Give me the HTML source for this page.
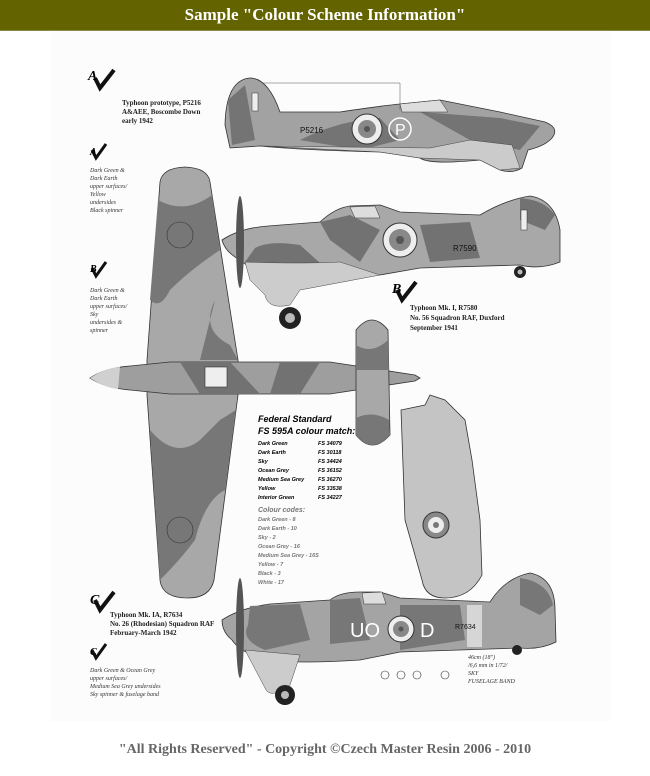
<!DOCTYPE html>
<html><head><meta charset="utf-8"><style>
body{margin:0;width:650px;height:776px;background:#fff;overflow:hidden;font-family:"Liberation Serif",serif}
.hdr{position:absolute;left:0;top:0;width:650px;height:30px;background:#636300;color:#fff;font-weight:bold;font-size:17px;text-align:center;line-height:30px;border-bottom:1px solid #8a8a40}
.ftr{position:absolute;left:0;top:742px;width:650px;text-align:center;color:#666;font-weight:bold;font-size:14px}
svg{position:absolute;left:0;top:31px}
.t{font-family:"Liberation Serif",serif;font-size:7px;fill:#222;font-weight:bold}
.i{font-family:"Liberation Serif",serif;font-size:6px;fill:#333;font-style:italic}
.c{fill:none;stroke:#333;stroke-width:.6}
.l{stroke:#444;stroke-width:.6;stroke-dasharray:2,1}
</style></head><body>
<div class="hdr">Sample "Colour Scheme Information"</div>
<svg width="650" height="710" viewBox="0 31 650 710">
<rect x="50" y="31" width="560" height="690" fill="#fcfcfc"/>
<!-- Top side view A -->
<path d="M225,125 Q226,80 250,78 Q268,78 280,112 L340,112 Q380,106 400,104 L440,100 Q470,106 500,112 L545,122 Q560,128 552,138 Q545,146 528,150 L522,168 Q512,174 500,170 L480,160 Q430,165 420,158 L380,152 Q300,150 260,146 L230,148 Z" fill="#a2a2a2" stroke="#333" stroke-width="0.8"/>
<path d="M300,140 Q340,120 380,118 L400,140 L360,150 Z M420,112 L500,118 L540,126 L520,150 L470,140 Z M228,100 L245,85 L255,140 L232,145 Z" fill="#747474"/>
<path d="M400,104 L440,100 L448,112 L402,112 Z" fill="#ddd" stroke="#333" stroke-width=".5"/>
<path d="M260,146 L380,152 L420,158 L480,160 L500,170 L520,168 L512,145 L470,140 L430,148 Z" fill="#cbcbcb" stroke="#444" stroke-width="0.5"/>
<circle cx="367" cy="129" r="15" fill="#eee" stroke="#333"/><circle cx="367" cy="129" r="9" fill="#888"/><circle cx="367" cy="129" r="3" fill="#555"/>
<circle cx="400" cy="129" r="11" fill="none" stroke="#fff" stroke-width="1.5"/><text x="395" y="135" font-size="16" fill="#fff" font-family="Liberation Sans">P</text>
<text x="300" y="133" font-size="8" fill="#111" font-family="Liberation Sans">P5216</text>
<rect x="252" y="93" width="6" height="18" fill="#eee" stroke="#333" stroke-width=".5"/>
<line x1="262" y1="83" x2="400" y2="83" stroke="#555" stroke-width=".5"/><line x1="400" y1="83" x2="400" y2="110" stroke="#555" stroke-width=".5"/>
<path d="M95,78 l5,10 l14,-18" stroke="#111" stroke-width="4" fill="none"/><text x="88" y="80" font-size="14" font-weight="bold" font-style="italic">A</text>
<text class="t" x="122" y="105">Typhoon prototype, P5216</text><text class="t" x="122" y="114">A&amp;AEE, Boscombe Down</text><text class="t" x="122" y="123">early 1942</text>
<!-- notes -->
<path d="M92,150 l4,8 l10,-14" stroke="#111" stroke-width="3" fill="none"/><text x="90" y="155" font-size="10" font-weight="bold" font-style="italic">A</text>
<text class="i" x="90" y="172">Dark Green &amp;</text><text class="i" x="90" y="180">Dark Earth</text><text class="i" x="90" y="188">upper surfaces/</text><text class="i" x="90" y="196">Yellow</text><text class="i" x="90" y="204">undersides</text><text class="i" x="90" y="212">Black spinner</text>
<path d="M92,268 l4,8 l10,-14" stroke="#111" stroke-width="3" fill="none"/><text x="90" y="272" font-size="10" font-weight="bold" font-style="italic">B</text>
<text class="i" x="90" y="292">Dark Green &amp;</text><text class="i" x="90" y="300">Dark Earth</text><text class="i" x="90" y="308">upper surfaces/</text><text class="i" x="90" y="316">Sky</text><text class="i" x="90" y="324">undersides &amp;</text><text class="i" x="90" y="332">spinner</text>
<!-- top view wing -->
<path d="M160,182 Q162,168 185,167 Q208,168 210,182 L238,360 L238,395 L214,580 Q210,598 188,598 Q162,598 160,580 L147,395 L147,360 Z" fill="#a8a8a8" stroke="#333" stroke-width="0.8"/>
<path d="M158,200 Q185,215 212,195 L220,250 Q190,270 170,290 Q160,310 150,300 Z M215,300 Q200,330 230,345 L238,360 L200,360 Z M150,430 Q175,460 200,440 L220,420 L236,410 L225,490 Q205,500 195,540 Q180,560 160,580 Z" fill="#777"/>
<circle cx="180" cy="235" r="13" class="c"/><circle cx="180" cy="530" r="13" class="c"/>
<!-- fuselage top view -->
<path d="M90,378 Q105,368 130,366 L170,362 L330,362 Q370,368 415,375 L420,378 L415,381 Q370,388 330,394 L170,394 L130,390 Q105,388 90,378 Z" fill="#9e9e9e" stroke="#333" stroke-width="0.8"/>
<path d="M90,378 Q105,368 120,367 L118,389 Q105,388 90,378 Z" fill="#d0d0d0"/>
<path d="M180,362 L230,362 L260,394 L200,394 Z M280,362 L320,362 L300,394 L270,394 Z" fill="#727272"/>
<rect x="205" y="367" width="22" height="20" fill="#eee" stroke="#333" stroke-width=".6"/>
<path d="M356,330 Q372,310 388,330 L390,435 Q372,455 356,435 Z" fill="#a8a8a8" stroke="#333" stroke-width="0.8"/>
<path d="M356,345 Q372,355 388,340 L389,370 L356,370 Z M356,418 Q372,410 389,420 L390,435 Q372,455 356,435 Z" fill="#777"/>
<!-- second side view B -->
<path d="M222,240 Q240,228 268,226 L320,222 Q335,208 350,206 L380,205 L400,212 L480,215 Q505,200 530,196 Q555,200 560,230 L560,262 Q540,270 520,265 L420,268 L380,275 Q320,278 280,275 Q250,270 240,260 Q225,252 222,240 Z" fill="#a8a8a8" stroke="#333" stroke-width="0.8"/>
<path d="M255,248 Q270,240 300,245 L330,272 L280,276 Q255,270 245,262 Z M320,222 L350,215 L380,230 L360,262 L330,240 Z M520,198 Q545,200 555,215 L545,230 L520,220 Z M420,225 L470,222 L480,258 L430,262 Z" fill="#727272"/>
<path d="M350,207 L375,206 L380,218 L355,218 Z" fill="#ddd" stroke="#333" stroke-width=".5"/>
<path d="M245,262 Q300,264 340,262 L380,275 L300,290 L290,305 Q268,310 265,295 L250,280 Z" fill="#ccc" stroke="#444" stroke-width=".5"/>
<circle cx="290" cy="318" r="11" fill="#222"/><circle cx="290" cy="318" r="5" fill="#bbb"/>
<circle cx="400" cy="240" r="17" fill="#eee" stroke="#333"/><circle cx="400" cy="240" r="11" fill="#888"/><circle cx="400" cy="240" r="4" fill="#555"/>
<text x="453" y="251" font-size="8" fill="#111" font-family="Liberation Sans">R7590</text>
<rect x="521" y="210" width="6" height="20" fill="#eee" stroke="#333" stroke-width=".5"/>
<ellipse cx="240" cy="242" rx="4" ry="46" fill="#555"/>
<circle cx="520" cy="272" r="6" fill="#222"/><circle cx="520" cy="272" r="2.5" fill="#bbb"/>
<path d="M397,290 l5,10 l14,-18" stroke="#111" stroke-width="4" fill="none"/><text x="392" y="293" font-size="14" font-weight="bold" font-style="italic">B</text>
<text class="t" x="410" y="310">Typhoon Mk. I, R7580</text><text class="t" x="410" y="320">No. 56 Squadron RAF, Duxford</text><text class="t" x="410" y="330">September 1941</text>
<!-- Federal standard -->
<text x="258" y="422" font-size="9" font-weight="bold" font-family="Liberation Sans" font-style="italic">Federal Standard</text>
<text x="258" y="434" font-size="9" font-weight="bold" font-family="Liberation Sans" font-style="italic">FS 595A colour match:</text>
<g font-size="5.5" font-family="Liberation Sans" font-weight="bold" font-style="italic">
<text x="258" y="445">Dark Green</text><text x="318" y="445">FS 34079</text>
<text x="258" y="454">Dark Earth</text><text x="318" y="454">FS 30118</text>
<text x="258" y="463">Sky</text><text x="318" y="463">FS 34424</text>
<text x="258" y="472">Ocean Grey</text><text x="318" y="472">FS 36152</text>
<text x="258" y="481">Medium Sea Grey</text><text x="318" y="481">FS 36270</text>
<text x="258" y="490">Yellow</text><text x="318" y="490">FS 33538</text>
<text x="258" y="499">Interior Green</text><text x="318" y="499">FS 34227</text>
<text x="258" y="512" font-size="7" fill="#777">Colour codes:</text>
<g fill="#777"><text x="258" y="521">Dark Green - 8</text><text x="258" y="530">Dark Earth - 10</text><text x="258" y="539">Sky - 2</text><text x="258" y="548">Ocean Grey - 16</text><text x="258" y="557">Medium Sea Grey - 16S</text><text x="258" y="566">Yellow - 7</text><text x="258" y="575">Black - 3</text><text x="258" y="584">White - 17</text></g>
</g>
<!-- wing underside -->
<path d="M401,410 L425,405 L430,395 L445,400 L465,420 L472,460 L480,520 L482,575 Q470,598 445,598 Q425,598 422,580 L405,520 Z" fill="#c4c4c4" stroke="#333" stroke-width="0.8"/>
<circle cx="436" cy="525" r="13" fill="#888" stroke="#333"/><circle cx="436" cy="525" r="8" fill="#eee"/><circle cx="436" cy="525" r="3" fill="#777"/>
<!-- bottom side view C -->
<path d="M222,620 Q240,608 270,604 L330,600 Q340,592 360,592 L380,592 L400,598 L490,602 Q505,578 530,573 Q555,578 555,610 L556,642 Q540,650 520,648 L400,652 L360,660 Q300,664 265,660 Q240,652 232,640 Q222,632 222,620 Z" fill="#a4a4a4" stroke="#333" stroke-width="0.8"/>
<path d="M250,606 L300,604 L310,640 L265,650 Q240,640 248,625 Z M330,600 L360,598 L370,640 L330,644 Z M400,605 L460,605 L465,640 L400,650 Z M520,578 Q548,582 553,605 L540,615 L520,605 Z" fill="#777"/>
<path d="M362,593 L382,592 L386,604 L364,604 Z" fill="#ddd" stroke="#333" stroke-width=".5"/>
<rect x="467" y="605" width="15" height="42" fill="#d6d6d6"/>
<path d="M245,650 L300,655 L290,685 Q270,700 265,688 Z" fill="#ccc" stroke="#444" stroke-width=".5"/>
<circle cx="285" cy="695" r="10" fill="#222"/><circle cx="285" cy="695" r="4" fill="#bbb"/>
<circle cx="517" cy="650" r="5" fill="#222"/>
<text x="350" y="637" font-size="20" fill="#fff" font-family="Liberation Sans">UO</text><text x="420" y="637" font-size="20" fill="#fff" font-family="Liberation Sans">D</text>
<circle cx="401" cy="629" r="13" fill="#eee" stroke="#333"/><circle cx="401" cy="629" r="8" fill="#888"/><circle cx="401" cy="629" r="2.5" fill="#555"/>
<text x="455" y="629" font-size="7" fill="#111" font-family="Liberation Sans">R7634</text>
<ellipse cx="240" cy="628" rx="4" ry="50" fill="#555"/>
<circle cx="385" cy="675" r="4" class="c"/><circle cx="401" cy="675" r="4" class="c"/><circle cx="417" cy="675" r="4" class="c"/><circle cx="445" cy="675" r="4" class="c"/>
<path d="M95,600 l5,10 l14,-18" stroke="#111" stroke-width="4" fill="none"/><text x="90" y="604" font-size="14" font-weight="bold" font-style="italic">C</text>
<text class="t" x="110" y="617">Typhoon Mk. IA, R7634</text><text class="t" x="110" y="626">No. 26 (Rhodesian) Squadron RAF</text><text class="t" x="110" y="635">February-March 1942</text>
<path d="M92,650 l4,8 l10,-14" stroke="#111" stroke-width="3" fill="none"/><text x="90" y="655" font-size="10" font-weight="bold" font-style="italic">C</text>
<text class="i" x="90" y="672">Dark Green &amp; Ocean Grey</text><text class="i" x="90" y="680">upper surfaces/</text><text class="i" x="90" y="688">Medium Sea Grey undersides</text><text class="i" x="90" y="696">Sky spinner &amp; fuselage band</text>
<text class="i" x="468" y="659">46cm (18")</text><text class="i" x="468" y="667">/6,6 mm in 1/72/</text><text class="i" x="468" y="675">SKY</text><text class="i" x="468" y="683">FUSELAGE BAND</text>
</svg>
<div class="ftr">"All Rights Reserved" - Copyright ©Czech Master Resin 2006 - 2010</div>
</body></html>
